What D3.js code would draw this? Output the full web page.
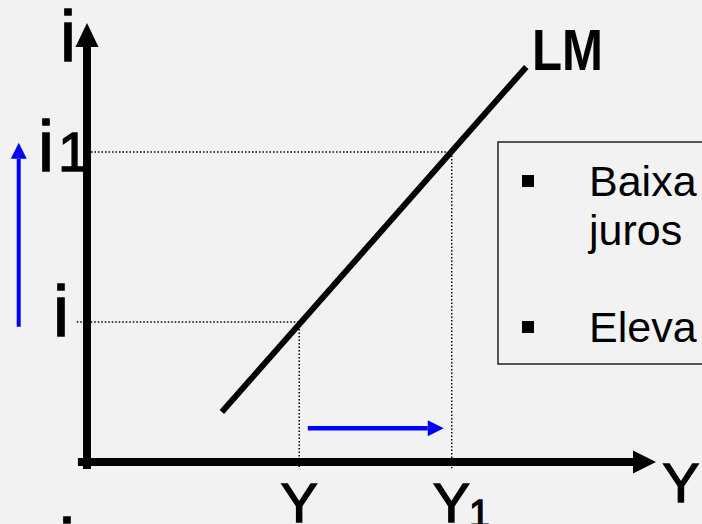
<!DOCTYPE html>
<html>
<head>
<meta charset="utf-8">
<script src="https://cdn.jsdelivr.net/npm/d3@7"></script>
<style>
  html, body { margin: 0; padding: 0; background: #f2f2f2; overflow: hidden; }
  svg { display: block; }
  text { font-family: "Liberation Sans", Arial, sans-serif; fill: #000; }
  text.lab { stroke: #000; stroke-width: 1.3px; }
</style>
</head>
<body>
<svg id="chart" width="702" height="524"></svg>
<script>
// ---- data (in abstract axis units, 0..100) ----
const yLevels = [{name: "Y", value: 37.3}, {name: "Y1", value: 64.1}];
const iLevels = [{name: "i", value: 31.9}, {name: "i1", value: 70.6}];
const lmCurve = [{y: 23.7, i: 11.4}, {y: 77.2, i: 90.0}];
const shiftY = [{y: 38.8, i: 7.7}, {y: 62.7, i: 7.7}];
const shiftI = [{y: -12.0, i: 30.8}, {y: -12.0, i: 72.7}];
const boxLines = [
  {text: "Baixa", bullet: true},
  {text: "juros", bullet: false},
  {text: "Eleva", bullet: true}
];

const svg = d3.select("#chart");
const x = d3.scaleLinear().domain([0, 100]).range([87, 656]);
const y = d3.scaleLinear().domain([0, 100]).range([462, 23]);

const iByName = Object.fromEntries(iLevels.map(d => [d.name, d.value]));
const yByName = Object.fromEntries(yLevels.map(d => [d.name, d.value]));

// dotted guide lines
const g = svg.append("g").attr("stroke", "#000").attr("stroke-width", 1.5).attr("stroke-dasharray", "1.5,2");
g.append("line").attr("x1", x(-1.8)).attr("x2", x(yByName["Y"])).attr("y1", y(iByName["i"])).attr("y2", y(iByName["i"]));
g.append("line").attr("x1", x(0.7)).attr("x2", x(yByName["Y1"])).attr("y1", y(iByName["i1"])).attr("y2", y(iByName["i1"]));
g.append("line").attr("x1", x(yByName["Y"])).attr("x2", x(yByName["Y"])).attr("y1", y(iByName["i"])).attr("y2", y(-1.4));
g.append("line").attr("x1", x(yByName["Y1"])).attr("x2", x(yByName["Y1"])).attr("y1", y(iByName["i1"])).attr("y2", y(-1.4));

// axes
const axisW = 8;
svg.append("line").attr("x1", x(0)).attr("x2", x(0)).attr("y1", y(-1.6)).attr("y2", y(100) + 24)
  .attr("stroke", "#000").attr("stroke-width", axisW);
svg.append("path")
  .attr("d", `M${x(0)},${y(100)} L${x(0) - 11.5},${y(100) + 24} L${x(0) + 11.5},${y(100) + 24} Z`)
  .attr("fill", "#000");
svg.append("line").attr("x1", x(-1.6)).attr("x2", x(100) - 23).attr("y1", y(0)).attr("y2", y(0))
  .attr("stroke", "#000").attr("stroke-width", axisW);
svg.append("path")
  .attr("d", `M${x(100)},${y(0)} L${x(100) - 23},${y(0) - 11.5} L${x(100) - 23},${y(0) + 11.5} Z`)
  .attr("fill", "#000");

// LM curve
const line = d3.line().x(d => x(d.y)).y(d => y(d.i));
svg.append("path").datum(lmCurve).attr("d", line)
  .attr("fill", "none").attr("stroke", "#000").attr("stroke-width", 6);

// blue shift arrows
function blueArrow(pts, vertical) {
  const a = pts[0], b = pts[1];
  const bx = x(b.y), by = y(b.i);
  const head = 16, half = 8;
  if (vertical) {
    svg.append("line").attr("x1", x(a.y)).attr("x2", bx).attr("y1", y(a.i)).attr("y2", by + head)
      .attr("stroke", "#0000ff").attr("stroke-width", 4);
    svg.append("path").attr("d", `M${bx},${by} L${bx - half},${by + head} L${bx + half},${by + head} Z`).attr("fill", "#0000ff");
  } else {
    svg.append("line").attr("x1", x(a.y)).attr("x2", bx - head).attr("y1", y(a.i)).attr("y2", by)
      .attr("stroke", "#0000ff").attr("stroke-width", 4.5);
    svg.append("path").attr("d", `M${bx},${by} L${bx - head},${by - half} L${bx - head},${by + half} Z`).attr("fill", "#0000ff");
  }
}
blueArrow(shiftY, false);
blueArrow(shiftI, true);

// axis labels
svg.append("text").attr("class", "lab").attr("x", 60).attr("y", 61).attr("font-size", 72).text("i");
svg.append("text").attr("class", "lab").attr("x", 681).attr("y", 502).attr("font-size", 56).attr("text-anchor", "middle").text("Y");
svg.append("text").attr("class", "lab").attr("x", 59).attr("y", 569).attr("font-size", 72).text("i");

// i level labels
svg.append("text").attr("class", "lab").attr("x", 53).attr("y", y(iByName["i"]) + 14).attr("font-size", 72).text("i");
const i1 = svg.append("text").attr("class", "lab").attr("x", 38).attr("y", y(iByName["i1"]) + 19);
i1.append("tspan").attr("font-size", 72).text("i");
i1.append("tspan").attr("font-size", 56).attr("dx", 4).text("1");

// Y level labels
svg.append("text").attr("class", "lab").attr("x", x(yByName["Y"])).attr("y", 522).attr("font-size", 56).attr("text-anchor", "middle").text("Y");
const y1t = svg.append("text").attr("class", "lab").attr("x", x(yByName["Y1"]) - 19).attr("y", 522);
y1t.append("tspan").attr("font-size", 56).text("Y");
y1t.append("tspan").attr("font-size", 38).attr("dx", -1).attr("dy", 5).text("1");

// LM label
svg.append("text").attr("x", 532).attr("y", 70).attr("font-size", 58).attr("font-weight", "bold")
  .attr("textLength", 71).attr("lengthAdjust", "spacingAndGlyphs").text("LM");

// text box
svg.append("rect").attr("x", 498).attr("y", 142).attr("width", 240).attr("height", 222)
  .attr("fill", "#f2f2f2").attr("stroke", "#222").attr("stroke-width", 1.5);
const baselines = [196, 245, 342];
boxLines.forEach((d, k) => {
  svg.append("text").attr("x", 589).attr("y", baselines[k]).attr("font-size", 43).attr("fill", "#111").text(d.text);
  if (d.bullet) {
    svg.append("rect").attr("x", 522).attr("y", baselines[k] - 21).attr("width", 12).attr("height", 12).attr("fill", "#000");
  }
});
</script>
</body>
</html>
